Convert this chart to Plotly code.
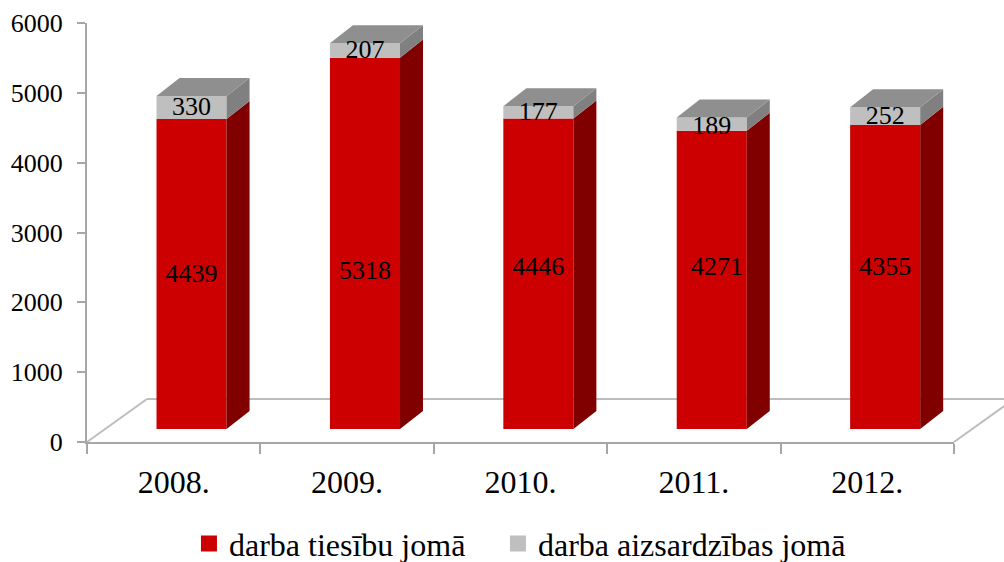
import plotly.graph_objects as go

years = ["2008.", "2009.", "2010.", "2011.", "2012."]
tiesibu = [4439, 5318, 4446, 4271, 4355]
aizsardzibas = [330, 207, 177, 189, 252]
name_a = "darba tiesību jomā"
name_b = "darba aizsardzības jomā"
y_ticks = [0, 1000, 2000, 3000, 4000, 5000, 6000]

FONT = "Liberation Serif"
RED, RED_SIDE = "#CC0000", "#800000"
GRAY, GRAY_SIDE, GRAY_TOP = "#BFBFBF", "#808080", "#8F8F8F"
AXIS = "#A6A6A6"

# perspective settings, in axis units
BAR_W = 0.404
BAR_LEFT = -0.099
DX = 0.1326
DY = 258
BASE = 186
FLOOR_DX = 60 / 867
FLOOR_DY = 43 / 419
PX = 6000 / 419  # axis units per pixel

# label placement (axis units)
label_y_a = [(442 - p) * PX for p in [275, 272, 268, 268, 268]]
label_y_b = [(442 - p) * PX for p in [108, 51, 113, 127, 117]]
label_dx_a = [0, 0, 0, 0.03, 0]

xs = list(range(len(years)))
x0 = [x + BAR_LEFT for x in xs]
x1 = [a + BAR_W for a in x0]
xc = [a + BAR_W / 2 for a in x0]

fig = go.Figure()


def poly(xv, yv, color):
    fig.add_trace(go.Scatter(x=xv, y=yv, fill="toself", fillcolor=color, mode="lines",
                             line=dict(width=0), showlegend=False, hoverinfo="skip"))


base2 = [BASE + v for v in tiesibu]
fig.add_trace(go.Bar(x=xs, y=tiesibu, base=[BASE] * 5, width=BAR_W, offset=BAR_LEFT,
                     marker=dict(color=RED, line=dict(width=0)), showlegend=False))
fig.add_trace(go.Bar(x=xs, y=aizsardzibas, base=base2, width=BAR_W, offset=BAR_LEFT,
                     marker=dict(color=GRAY, line=dict(width=0)), showlegend=False))

for a, b, r, g in zip(x0, x1, tiesibu, aizsardzibas):
    t1 = BASE + r
    t2 = t1 + g
    poly([b, b, b + DX, b + DX, b], [BASE, t1, t1 + DY, BASE + DY, BASE], RED_SIDE)
    poly([b, b, b + DX, b + DX, b], [t1, t2, t2 + DY, t1 + DY, t1], GRAY_SIDE)
    poly([a, b, b + DX, a + DX, a], [t2, t2, t2 + DY, t2 + DY, t2], GRAY_TOP)

fig.add_trace(go.Scatter(x=[c + d for c, d in zip(xc, label_dx_a)], y=label_y_a, mode="text",
                         text=[str(v) for v in tiesibu], textposition="middle center",
                         textfont=dict(family=FONT, size=26, color="black"),
                         showlegend=False, cliponaxis=False))
fig.add_trace(go.Scatter(x=xc, y=label_y_b, mode="text",
                         text=[str(v) for v in aizsardzibas], textposition="middle center",
                         textfont=dict(family=FONT, size=26, color="black"),
                         showlegend=False, cliponaxis=False))

fig.add_trace(go.Scatter(x=[None], y=[None], mode="markers", name=name_a, legend="legend",
                         marker=dict(symbol="square", size=16, color=RED)))
fig.add_trace(go.Scatter(x=[None], y=[None], mode="markers", name=name_b, legend="legend2",
                         marker=dict(symbol="square", size=16, color=GRAY)))

floor_line = dict(color="#BDBDBD", width=2)
legend_font = dict(family=FONT, size=32)
fig.update_layout(
    autosize=False, width=1004, height=562,
    margin=dict(l=87, r=50, t=23, b=120, pad=0, autoexpand=False),
    paper_bgcolor="white", plot_bgcolor="white",
    barmode="overlay",
    font=dict(family=FONT, color="black"),
    xaxis=dict(range=[-0.5, 4.5], tickmode="array", tickvals=xs, ticktext=years, ticks="",
               tickfont=dict(family=FONT, size=32), ticklabelstandoff=11,
               showgrid=False, zeroline=False, showline=True, linecolor=AXIS, linewidth=2,
               minor=dict(tickmode="array", tickvals=[x - 0.5 for x in xs] + [4.5], ticks="outside",
                          ticklen=10, tickwidth=2, tickcolor=AXIS, showgrid=False)),
    yaxis=dict(range=[0, 6000], tickmode="array", tickvals=y_ticks, ticks="outside", ticklen=8,
               tickwidth=2, tickcolor=AXIS, tickfont=dict(family=FONT, size=26), ticklabelstandoff=9,
               showgrid=False, zeroline=False, showline=True, linecolor=AXIS, linewidth=2),
    legend=dict(x=0.1176, xanchor="left", y=-0.243, yanchor="middle", font=legend_font, itemclick=False),
    legend2=dict(x=0.474, xanchor="left", y=-0.243, yanchor="middle", font=legend_font, itemclick=False),
    shapes=[
        dict(type="line", xref="paper", yref="paper", x0=0, y0=0, x1=FLOOR_DX, y1=FLOOR_DY,
             line=floor_line, layer="below"),
        dict(type="line", xref="paper", yref="paper", x0=FLOOR_DX, y0=FLOOR_DY, x1=1 + FLOOR_DX, y1=FLOOR_DY,
             line=floor_line, layer="below"),
        dict(type="line", xref="paper", yref="paper", x0=1, y0=0, x1=1 + FLOOR_DX, y1=FLOOR_DY,
             line=floor_line, layer="below"),
    ],
)
fig.write_html("out.html", post_script="document.body.style.margin='0';",
               config={"displayModeBar": False})
